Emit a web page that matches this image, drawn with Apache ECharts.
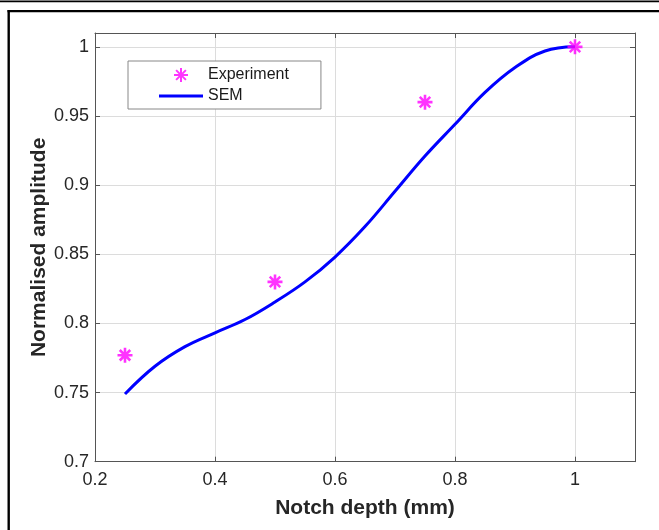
<!DOCTYPE html>
<html>
<head>
<meta charset="utf-8">
<script src="https://cdn.jsdelivr.net/npm/echarts@6/dist/echarts.min.js"></script>
<style>
html,body{margin:0;padding:0;background:#fff;}
#chart{width:659px;height:530px;}
</style>
</head>
<body>
<div id="chart"></div>
<script>
// Experimental points
const expX = [0.25, 0.5, 0.75, 1.0];
const expY = [0.777, 0.830, 0.960, 1.000];
// SEM curve
const semX = [0.25, 0.30, 0.35, 0.40, 0.45, 0.50, 0.55, 0.60, 0.65, 0.70, 0.75, 0.80, 0.85, 0.90, 0.95, 1.00];
const semY = [0.749, 0.769, 0.7832, 0.7932, 0.8028, 0.8155, 0.830, 0.848, 0.870, 0.8955, 0.921, 0.944, 0.967, 0.985, 0.997, 1.000];
const xTicks = {min: 0.2, max: 1.1, interval: 0.2};
const yTicks = {min: 0.7, max: 1.01, interval: 0.05};
const seriesNames = ['Experiment', 'SEM'];
const xLabel = 'Notch depth (mm)';
const yLabel = 'Normalised amplitude';

const star = 'path://M10 0 L10 20 M0 10 L20 10 M3 3 L17 17 M3 17 L17 3';
const font = 'Liberation Sans, Arial, Helvetica, sans-serif';
const axisCol = '#555';
const gridCol = '#dcdcdc';

const chart = echarts.init(document.getElementById('chart'), null, {renderer: 'canvas'});

const baseX = {
  type: 'value', min: xTicks.min, max: xTicks.max, interval: xTicks.interval,
  axisLine: {show: true, onZero: false, lineStyle: {color: axisCol, width: 1}},
  axisTick: {show: true, inside: true, length: 5, lineStyle: {color: axisCol}},
  splitLine: {show: false}
};
const baseY = {
  type: 'value', min: yTicks.min, max: yTicks.max, interval: yTicks.interval,
  axisLine: {show: true, onZero: false, lineStyle: {color: axisCol, width: 1}},
  axisTick: {show: true, inside: true, length: 5, lineStyle: {color: axisCol}},
  splitLine: {show: false}
};

chart.setOption({
  animation: false,
  backgroundColor: '#fff',
  grid: {left: 95, right: 24, top: 33, bottom: 68.3, containLabel: false},
  legend: {
    show: true, orient: 'vertical', left: 128, top: 61,
    data: [
      {name: seriesNames[0]},
      {name: seriesNames[1], icon: 'path://M0 0 L44 0 L44 3 L0 3 Z', itemStyle: {color: '#0000ff'}}
    ],
    backgroundColor: '#fff', borderColor: '#888', borderWidth: 1, borderRadius: 0,
    padding: [6, 32, 5, 31], itemGap: 5, itemWidth: 44, itemHeight: 14,
    textStyle: {fontFamily: font, fontSize: 16, color: '#1a1a1a'},
    selectedMode: false
  },
  xAxis: [
    Object.assign({}, baseX, {
      position: 'bottom',
      axisLabel: {show: true, showMaxLabel: false, fontFamily: font, fontSize: 18, color: '#262626', margin: 9},
      splitLine: {show: true, lineStyle: {color: gridCol, width: 1}},
      name: xLabel, nameLocation: 'middle', nameGap: 36, nameMoveOverlap: false,
      nameTextStyle: {fontFamily: font, fontSize: 21, fontWeight: 'bold', color: '#262626'}
    }),
    Object.assign({}, baseX, {position: 'top', axisLabel: {show: false}})
  ],
  yAxis: [
    Object.assign({}, baseY, {
      position: 'left',
      axisLabel: {show: true, showMaxLabel: false, fontFamily: font, fontSize: 18, color: '#262626', margin: 6},
      splitLine: {show: true, lineStyle: {color: gridCol, width: 1}},
      name: yLabel, nameLocation: 'middle', nameGap: 45, nameRotate: 90, nameMoveOverlap: false,
      nameTextStyle: {fontFamily: font, fontSize: 21, fontWeight: 'bold', color: '#262626'}
    }),
    Object.assign({}, baseY, {position: 'right', axisLabel: {show: false}})
  ],
  series: [
    {
      name: seriesNames[0], type: 'scatter', xAxisIndex: 0, yAxisIndex: 0,
      data: expX.map((x, i) => [x, expY[i]]),
      symbol: star, symbolSize: 15,
      itemStyle: {color: 'rgba(0,0,0,0)', borderColor: '#ff00ff', borderWidth: 2.6},
      z: 5
    },
    {
      name: seriesNames[1], type: 'line', xAxisIndex: 0, yAxisIndex: 0,
      data: semX.map((x, i) => [x, semY[i]]),
      smooth: 0.4, symbol: 'none', showSymbol: false,
      lineStyle: {color: '#0000ff', width: 3},
      itemStyle: {color: '#0000ff'},
      z: 4
    }
  ],
  graphic: [
    {type: 'rect', shape: {x: 0, y: 0.5, width: 659, height: 1.8}, style: {fill: '#000'}, silent: true},
    {type: 'rect', shape: {x: 7.5, y: 10, width: 651.5, height: 2.2}, style: {fill: '#000'}, silent: true},
    {type: 'rect', shape: {x: 7.5, y: 10, width: 2.4, height: 520}, style: {fill: '#000'}, silent: true}
  ]
});
</script>
</body>
</html>
